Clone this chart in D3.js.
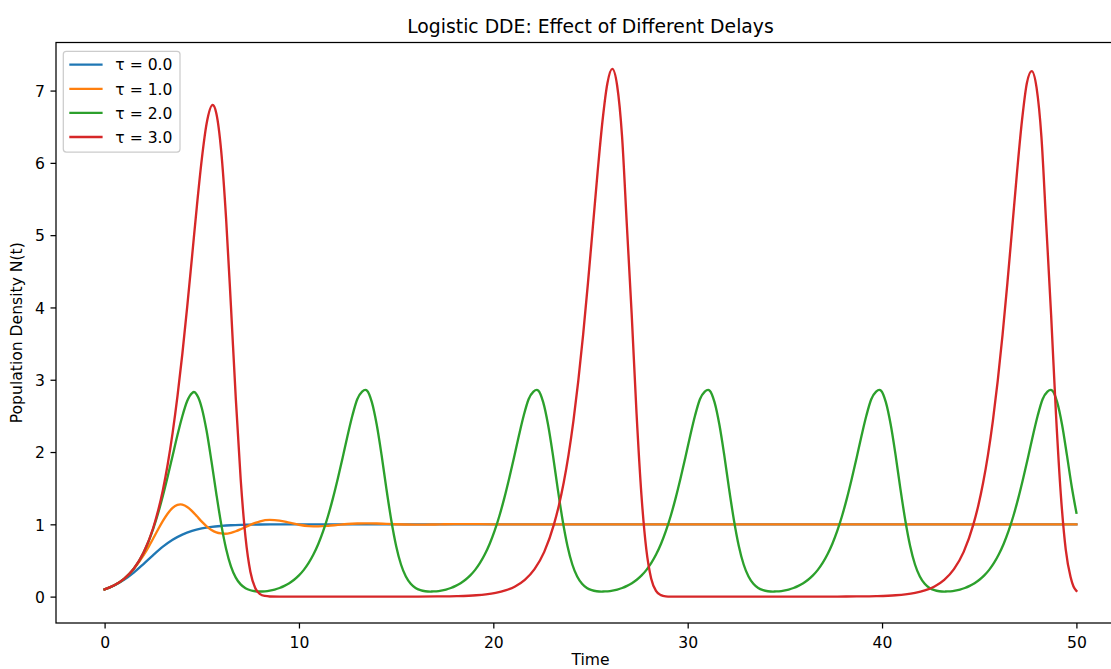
<!DOCTYPE html>
<html><head><meta charset="utf-8">
<script src="https://cdn.jsdelivr.net/npm/d3@7"></script>
<style>
body{margin:0;background:#fff}
svg{display:block}
text{font-family:"DejaVu Sans",sans-serif;fill:#000}
</style>
</head><body>
<svg id="chart" width="1111" height="669"></svg>
<script>
// ---------------- data ----------------
const chartTitle = "Logistic DDE: Effect of Different Delays";
const xLabel = "Time";
const yLabel = "Population Density N(t)";
const seriesNames = ["τ = 0.0", "τ = 1.0", "τ = 2.0", "τ = 3.0"];
const xTicks = [0, 10, 20, 30, 40, 50];
const yTicks = [0, 1, 2, 3, 4, 5, 6, 7];

// [time, N(t)] pairs
const tau0 = [[0,0.100],[0.5,0.155],[1,0.232],[1.5,0.332],[2,0.451],[2.5,0.575],[3,0.691],[3.5,0.787],[4,0.858],[4.5,0.909],[5,0.943],[5.5,0.965],[6,0.978],[6.5,0.987],[7,0.992],[7.5,0.995],[8,0.997],[9,0.999],[10,1.000],[12,1.000],[15,1.000],[20,1.000],[30,1.000],[40,1.000],[50,1.000]];

const tau1 = [[0,0.100],[0.5,0.157],[1,0.246],[1.5,0.381],[2,0.569],[2.25,0.681],[2.5,0.803],[2.75,0.928],[3,1.047],[3.25,1.150],[3.5,1.227],[3.75,1.269],[3.9,1.276],[4,1.272],[4.25,1.241],[4.5,1.183],[4.75,1.111],[5,1.037],[5.25,0.973],[5.5,0.922],[5.75,0.889],[6,0.874],[6.2,0.870],[6.5,0.883],[6.75,0.904],[7,0.932],[7.25,0.963],[7.5,0.993],[7.75,1.020],[8,1.042],[8.5,1.061],[9,1.051],[9.5,1.023],[10,0.994],[10.5,0.976],[11,0.972],[11.5,0.979],[12,0.992],[12.5,1.004],[13,1.011],[13.5,1.014],[14,1.012],[14.5,1.006],[15,1.001],[15.5,0.997],[16,0.995],[16.5,0.996],[17,0.998],[17.5,1.001],[18,1.002],[19,1.002],[20,1.000],[22,0.999],[25,1.000],[30,1.000],[40,1.000],[50,1.000]];

const tau2 = [[0,0.100],[0.25,0.125],[0.5,0.157],[0.75,0.196],[1,0.246],[1.25,0.308],[1.5,0.386],[1.75,0.483],[2,0.605],[2.25,0.755],[2.5,0.937],[2.75,1.150],[3,1.395],[3.25,1.665],[3.5,1.950],[3.75,2.235],[4,2.495],[4.25,2.705],[4.5,2.815],[4.6,2.830],[4.75,2.790],[5,2.610],[5.25,2.290],[5.5,1.870],[5.75,1.420],[6,1.003],[6.25,0.663],[6.5,0.419],[6.75,0.263],[7,0.169],[7.25,0.116],[7.5,0.088],[7.75,0.074],
[8,0.0705],[8.25,0.0735],[8.5,0.0828],[8.75,0.0977],[9,0.119],[9.25,0.148],[9.5,0.185],[9.75,0.233],[10,0.293],[10.25,0.370],[10.5,0.466],[10.75,0.585],[11,0.731],[11.25,0.908],[11.5,1.118],[11.75,1.363],[12,1.635],[12.25,1.925],[12.5,2.225],[12.75,2.505],[13,2.730],[13.25,2.835],[13.42,2.860],[13.5,2.850],[13.75,2.690],[14,2.380],[14.25,1.960],[14.5,1.490],[14.75,1.057],[15,0.701],[15.25,0.444],[15.5,0.277],[15.75,0.177],[16,0.119],[16.25,0.089],[16.5,0.074],[16.75,0.069],
[16.815,0.0705],[17.065,0.0735],[17.315,0.0828],[17.565,0.0977],[17.815,0.119],[18.065,0.148],[18.315,0.185],[18.565,0.233],[18.815,0.293],[19.065,0.370],[19.315,0.466],[19.565,0.585],[19.815,0.731],[20.065,0.908],[20.315,1.118],[20.565,1.363],[20.815,1.635],[21.065,1.925],[21.315,2.225],[21.565,2.505],[21.815,2.730],[22.065,2.835],[22.235,2.860],[22.315,2.850],[22.565,2.690],[22.815,2.380],[23.065,1.960],[23.315,1.490],[23.565,1.057],[23.815,0.701],[24.065,0.444],[24.315,0.277],[24.565,0.177],[24.815,0.119],[25.065,0.089],[25.315,0.074],[25.565,0.069],
[25.63,0.0705],[25.88,0.0735],[26.13,0.0828],[26.38,0.0977],[26.63,0.119],[26.88,0.148],[27.13,0.185],[27.38,0.233],[27.63,0.293],[27.88,0.370],[28.13,0.466],[28.38,0.585],[28.63,0.731],[28.88,0.908],[29.13,1.118],[29.38,1.363],[29.63,1.635],[29.88,1.925],[30.13,2.225],[30.38,2.505],[30.63,2.730],[30.88,2.835],[31.05,2.860],[31.13,2.850],[31.38,2.690],[31.63,2.380],[31.88,1.960],[32.13,1.490],[32.38,1.057],[32.63,0.701],[32.88,0.444],[33.13,0.277],[33.38,0.177],[33.63,0.119],[33.88,0.089],[34.13,0.074],[34.38,0.069],
[34.445,0.0705],[34.695,0.0735],[34.945,0.0828],[35.195,0.0977],[35.445,0.119],[35.695,0.148],[35.945,0.185],[36.195,0.233],[36.445,0.293],[36.695,0.370],[36.945,0.466],[37.195,0.585],[37.445,0.731],[37.695,0.908],[37.945,1.118],[38.195,1.363],[38.445,1.635],[38.695,1.925],[38.945,2.225],[39.195,2.505],[39.445,2.730],[39.695,2.835],[39.865,2.860],[39.945,2.850],[40.195,2.690],[40.445,2.380],[40.695,1.960],[40.945,1.490],[41.195,1.057],[41.445,0.701],[41.695,0.444],[41.945,0.277],[42.195,0.177],[42.445,0.119],[42.695,0.089],[42.945,0.074],[43.195,0.069],
[43.26,0.0705],[43.51,0.0735],[43.76,0.0828],[44.01,0.0977],[44.26,0.119],[44.51,0.148],[44.76,0.185],[45.01,0.233],[45.26,0.293],[45.51,0.370],[45.76,0.466],[46.01,0.585],[46.26,0.731],[46.51,0.908],[46.76,1.118],[47.01,1.363],[47.26,1.635],[47.51,1.925],[47.76,2.225],[48.01,2.505],[48.26,2.730],[48.51,2.835],[48.68,2.860],[48.76,2.850],[49.01,2.690],[49.26,2.380],[49.51,1.960],[49.76,1.520],[50,1.160]];

const tau3 = [[0,0.100],[0.5,0.157],[1,0.246],[1.5,0.386],[2,0.605],[2.5,0.949],[3,1.476],[3.25,1.835],[3.5,2.265],[3.75,2.772],[4,3.356],[4.25,4.007],[4.5,4.704],[4.75,5.406],[5,6.049],[5.25,6.544],[5.56,6.800],[5.75,6.684],[6,6.162],[6.25,5.236],[6.5,4.022],[6.75,2.743],[7,1.630],[7.25,0.822],[7.5,0.344],[7.75,0.120],[8,0.035],[8.25,0.009],[8.5,0.002],[9,0.0003],[10,0.00002],[12,0.00002],[13.12,0.00005],[15.12,0.00035],[16.12,0.00095],[17.12,0.0026],[18.12,0.0071],[19.12,0.0192],[19.62,0.0316],[20.12,0.0522],[20.62,0.0859],[21.12,0.141],[21.62,0.232],[22.12,0.380],[22.62,0.619],[23.12,1.000],[23.37,1.257],[23.62,1.574],[23.87,1.961],[24.12,2.428],[24.37,2.981],[24.62,3.621],[24.87,4.340],[25.12,5.110],[25.37,5.885],[25.62,6.586],[25.87,7.102],[26.12,7.300],[26.37,7.070],[26.62,6.380],[26.87,5.140],[27.12,3.900],[27.37,2.530],[27.62,1.409],[27.87,0.656],[28.12,0.252],[28.37,0.0786],[28.62,0.0202],[28.87,0.004],[29.12,0.0009],[30,0.0001],[32,0.00002],[34.7,0.00005],[36.7,0.00035],[37.7,0.00095],[38.7,0.0026],[39.7,0.0071],[40.7,0.0192],[41.2,0.0316],[41.7,0.0522],[42.2,0.0859],[42.7,0.141],[43.2,0.232],[43.7,0.380],[44.2,0.619],[44.7,1.000],[44.95,1.257],[45.2,1.574],[45.45,1.961],[45.7,2.428],[45.95,2.981],[46.2,3.621],[46.45,4.340],[46.7,5.110],[46.95,5.885],[47.2,6.586],[47.45,7.102],[47.7,7.270],[47.95,7.040],[48.2,6.360],[48.45,5.130],[48.7,3.890],[48.95,2.520],[49.2,1.405],[49.45,0.655],[49.7,0.270],[49.85,0.140],[50,0.080]];

const seriesData = [tau0, tau1, tau2, tau3];
const seriesColors = ["#1f77b4", "#ff7f0e", "#2ca02c", "#d62728"];

// ---------------- layout ----------------
const svg = d3.select("#chart");
const box = {left: 56, top: 42.5, right: 1125, bottom: 623};
const fs = 15.6;      // 10pt tick / label font
const fsTitle = 18.8; // 12pt title font
const lw = 2.34;      // 1.5pt line width
const sw = 1.25;      // 0.8pt spine width
const tk = 5.5;       // 3.5pt tick length / pad

const allPts = seriesData.flat();
const xExt = d3.extent(allPts, d => d[0]);
const yExt = d3.extent(allPts, d => d[1]);
const xPad = (xExt[1] - xExt[0]) * 0.05;
const yPad = (yExt[1] - yExt[0]) * 0.05;

const x = d3.scaleLinear().domain([xExt[0] - xPad, xExt[1] + xPad]).range([box.left, box.right]);
const y = d3.scaleLinear().domain([yExt[0] - yPad, yExt[1] + yPad]).range([box.bottom, box.top]);

svg.append("rect").attr("width", 1111).attr("height", 669).attr("fill", "#fff");

svg.append("defs").append("clipPath").attr("id", "clip")
  .append("rect").attr("x", box.left).attr("y", box.top)
  .attr("width", box.right - box.left).attr("height", box.bottom - box.top);

// lines
const line = d3.line().x(d => x(d[0])).y(d => y(d[1])).curve(d3.curveMonotoneX);
const plot = svg.append("g").attr("clip-path", "url(#clip)");
seriesData.forEach((s, i) => {
  plot.append("path").datum(s)
    .attr("fill", "none")
    .attr("stroke", seriesColors[i])
    .attr("stroke-width", lw)
    .attr("stroke-linejoin", "round")
    .attr("stroke-linecap", "square")
    .attr("d", line);
});

// axes
const xAxis = svg.append("g").attr("transform", `translate(0,${box.bottom})`)
  .call(d3.axisBottom(x).tickValues(xTicks).tickFormat(d3.format("d")).tickSize(tk).tickPadding(tk));
const yAxis = svg.append("g").attr("transform", `translate(${box.left},0)`)
  .call(d3.axisLeft(y).tickValues(yTicks).tickFormat(d3.format("d")).tickSize(tk).tickPadding(tk));
[xAxis, yAxis].forEach(g => {
  g.select(".domain").remove();
  g.selectAll(".tick line").attr("stroke", "#000").attr("stroke-width", sw);
  g.selectAll(".tick text").attr("font-size", fs).attr("fill", "#000")
    .style("font-family", "'DejaVu Sans', sans-serif");
});
xAxis.selectAll(".tick text").attr("dy", null).attr("y", 24.5);
yAxis.selectAll(".tick text").attr("dy", null).attr("y", 5.7);

// spines
svg.append("rect").attr("x", box.left).attr("y", box.top)
  .attr("width", box.right - box.left).attr("height", box.bottom - box.top)
  .attr("fill", "none").attr("stroke", "#000").attr("stroke-width", sw);

// title & labels
svg.append("text").attr("x", (box.left + box.right) / 2).attr("y", 33)
  .attr("text-anchor", "middle").attr("font-size", fsTitle).text(chartTitle);
svg.append("text").attr("x", (box.left + box.right) / 2).attr("y", 665)
  .attr("text-anchor", "middle").attr("font-size", fs).text(xLabel);
svg.append("text").attr("transform", `translate(21.5,${(box.top + box.bottom) / 2}) rotate(-90)`)
  .attr("text-anchor", "middle").attr("font-size", fs).text(yLabel);

// legend
const lg = svg.append("g");
lg.append("rect").attr("x", 63.3).attr("y", 51.3).attr("width", 116.7).attr("height", 100.7)
  .attr("rx", 3).attr("fill", "#fff").attr("fill-opacity", 0.8)
  .attr("stroke", "#cccccc").attr("stroke-width", sw);
seriesNames.forEach((name, i) => {
  const ry = 64.7 + i * 24.1;
  lg.append("line").attr("x1", 69.3).attr("x2", 102.6).attr("y1", ry).attr("y2", ry)
    .attr("stroke", seriesColors[i]).attr("stroke-width", lw);
  lg.append("text").attr("x", 115.3).attr("y", ry + 5.7).attr("font-size", fs).text(name);
});
</script>
</body></html>
